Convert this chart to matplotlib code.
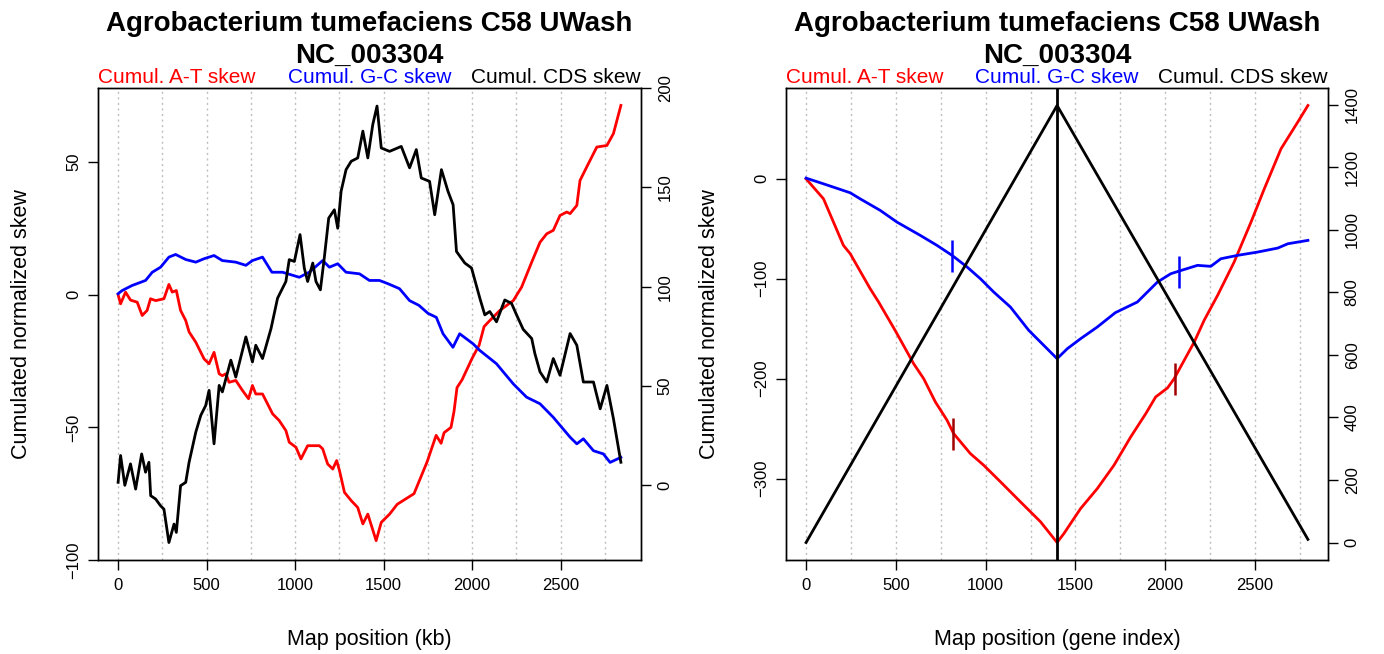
import numpy as np
import matplotlib.pyplot as plt

plt.rcParams['font.family'] = ['Liberation Sans', 'DejaVu Sans']

# --- cumulative skews along the chromosome (kb) ---
kb_at = [0, 14, 42, 70, 108, 136, 164, 183, 212, 259, 287, 306, 329, 353, 382, 401, 439,
         486, 514, 542, 571, 589, 609, 627, 665, 703, 737, 759, 778, 816, 873, 910, 948,
         967, 1005, 1033, 1071, 1137, 1156, 1184, 1213, 1235, 1251, 1279, 1317, 1354, 1383,
         1411, 1458, 1487, 1534, 1577, 1672, 1746, 1797, 1825, 1842, 1881, 1898, 1915, 1944,
         2000, 2040, 2068, 2096, 2120, 2157, 2233, 2280, 2337, 2384, 2422, 2459, 2497, 2535,
         2554, 2592, 2610, 2657, 2705, 2762, 2799, 2841]
at_skew_kb = [0, -3.4, 1, -2, -2.8, -7.8, -5.9, -1.5, -2.2, -1.5, 3.9, 1, 1.6, -5.9, -9.7,
              -14, -17.9, -24.2, -26, -21.7, -29.8, -30.5, -29.8, -33, -32.3, -36.1, -39.2,
              -34.2, -37.4, -37.4, -44.9, -47.4, -51.2, -55.6, -57.5, -61.9, -56.9, -56.9,
              -58.1, -63.8, -65.7, -62.5, -66.3, -74.5, -77.6, -80.2, -86.4, -82.7, -92.7,
              -85.8, -82.7, -79, -75, -63, -53, -56, -52, -50, -44, -35, -32, -24, -19, -12,
              -10, -8.4, -5.9, -2.2, 2.9, 12.3, 19.8, 23, 24.3, 29.9, 31.2, 30.6, 33.7, 43.1,
              49.4, 55.7, 56.3, 60.8, 71.4]

kb_gc = [0, 23, 79, 155, 193, 240, 287, 325, 382, 439, 486, 542, 589, 665, 722, 759, 816,
         869, 929, 1024, 1080, 1156, 1194, 1241, 1288, 1364, 1420, 1477, 1524, 1590, 1647,
         1700, 1751, 1798, 1836, 1892, 1930, 2006, 2044, 2138, 2233, 2308, 2384, 2459, 2554,
         2592, 2629, 2686, 2742, 2780, 2841]
gc_skew_kb = [0.4, 1.6, 3.5, 5.4, 8.5, 10.4, 14.2, 15.2, 13.3, 12.3, 13.6, 14.8, 12.9, 12.3,
              11.1, 12.9, 14.2, 8.5, 8.5, 6.6, 8.5, 12.9, 10.4, 11.7, 8.5, 7.9, 5.4, 5.4, 4.2,
              2.3, -2.2, -4, -7, -8.5, -14.7, -19.8, -14.7, -18.5, -21, -26, -33.6, -38.6,
              -41.1, -46.2, -53.7, -56.2, -54.3, -58.8, -60, -63.2, -61.3]

kb_cds = [0, 14, 38, 70, 99, 133, 155, 174, 184, 212, 240, 259, 287, 316, 329, 353, 382,
          401, 439, 467, 495, 514, 542, 571, 589, 637, 665, 722, 759, 778, 816, 864, 901,
          948, 967, 996, 1028, 1052, 1071, 1100, 1118, 1143, 1165, 1190, 1222, 1241, 1260,
          1288, 1317, 1354, 1383, 1411, 1439, 1463, 1487, 1534, 1600, 1647, 1685, 1713,
          1760, 1789, 1827, 1864, 1893, 1912, 1959, 1997, 2044, 2072, 2100, 2138, 2185,
          2223, 2252, 2289, 2337, 2355, 2384, 2422, 2459, 2497, 2554, 2592, 2629, 2686,
          2724, 2762, 2799, 2841]
cds_skew_kb = [1.5, 15, 0, 10.8, -1.9, 15.8, 6.6, 11.6, -5.2, -6.9, -10.3, -12, -28.8,
               -19.5, -23.7, -0.2, 1.5, 11.6, 26.8, 35.2, 40.2, 47.8, 20.9, 50.3, 47, 63,
               54.5, 74.7, 62.1, 70.5, 63.8, 78.9, 94.2, 102.6, 113.6, 112.7, 126.2, 109.4,
               102.6, 111.9, 102.6, 98.4, 114.5, 134.5, 138.7, 129.4, 148, 158.9, 163.1,
               164.8, 178.3, 164.8, 181.6, 190.9, 169.8, 168.1, 170.6, 159.8, 169, 154.7,
               153, 136.2, 158.9, 148, 141.2, 117.7, 111.9, 109.4, 94.2, 85.8, 87.5, 82.3,
               93.3, 91.6, 85.7, 78.5, 73.9, 66.3, 57.1, 52, 63.8, 55.4, 76.4, 70.5, 52, 52,
               38.5, 50.3, 33.5, 11.6]

# --- cumulative skews along the gene order ---
gene_at = [0, 97, 208, 246, 357, 404, 497, 599, 655, 720, 785, 822, 915, 989, 1083, 1194,
           1306, 1398, 1436, 1529, 1622, 1715, 1808, 1892, 1947, 2013, 2050, 2106, 2162,
           2217, 2292, 2384, 2478, 2552, 2645, 2738, 2795]
at_skew_gene = [0, -20, -66.6, -75, -110, -123.3, -152, -185, -200, -223.3, -241.6, -255,
                -275, -286.6, -303.3, -323.3, -343.3, -364, -355, -330, -310, -286.6,
                -258.3, -235, -218.3, -209.3, -200, -181.6, -163.3, -141.6, -116.6, -83.3,
                -43.3, -10, 30, 56.7, 73.4]

gene_gc = [0, 97, 190, 246, 301, 413, 506, 636, 729, 813, 897, 971, 1045, 1138, 1240, 1398,
           1455, 1529, 1622, 1722, 1845, 1957, 2031, 2078, 2180, 2254, 2310, 2403, 2515,
           2627, 2683, 2795]
gc_skew_gene = [0.7, -5, -10.6, -14, -20, -31.6, -43.3, -56.6, -66.6, -76.6, -88.3, -100,
                -113.3, -128.3, -151.6, -180, -170, -160, -148.3, -134, -123.3, -103.3, -95,
                -92.3, -86.6, -87.6, -80, -76.6, -73.3, -69.3, -65, -61.6]

gene_cds = [0, 1398, 2795]
cds_skew_gene = [0, 1398, 10]

# tick marks placed on the gene-order curves
at_mark_gene = [820, 2052]
at_mark_val = [-255, -200]
gc_mark_gene = [813, 2076]
gc_mark_val = [-77, -93]

TITLE = "Agrobacterium tumefaciens C58 UWash"
ACCESSION = "NC_003304"
AT_COL, GC_COL, CDS_COL = "#FF0000", "#0000FF", "black"


def r_style(ax):
    ax.tick_params(axis='both', direction='out', length=7, width=1, labelsize=12)
    ax.tick_params(axis='x', pad=6)
    ax.tick_params(axis='y', labelrotation=90, pad=5)
    for lab in ax.get_yticklabels():
        lab.set_va('center')
    for s in ax.spines.values():
        s.set_linewidth(1)


def draw_panel(ax, xs, x_label, at_x, at_y, gc_x, gc_y, cds_x, cds_y,
               left_ticks, right_ticks):
    xmax = max(xs)
    for v in np.arange(0, xmax + 1, 250):
        ax.axvline(v, color='#BEBEBE', lw=1, ls=(0, (1.5, 2.5)), zorder=0)

    ax.plot(at_x, at_y, color=AT_COL, lw=2)
    ax.plot(gc_x, gc_y, color=GC_COL, lw=2)
    ax.margins(x=0.04, y=0.04)
    ax.set_xlim(-0.04 * xmax, 1.04 * xmax)
    ax.set_yticks(left_ticks)
    ax.set_xticks(np.arange(0, xmax, 500))

    ax2 = ax.twinx()
    ax2.plot(cds_x, cds_y, color=CDS_COL, lw=2)
    ax2.margins(y=0.04)
    ax2.set_xlim(-0.04 * xmax, 1.04 * xmax)
    ax2.set_yticks(right_ticks)

    r_style(ax)
    r_style(ax2)

    ax.set_xlabel(x_label, fontsize=15.5, labelpad=26)
    ax.set_ylabel("Cumulated normalized skew", fontsize=15.5, labelpad=25)

    ax.text(0.5, 1.135, TITLE, transform=ax.transAxes, ha='center', va='center',
            fontsize=20, fontweight='bold')
    ax.text(0.5, 1.069, ACCESSION, transform=ax.transAxes, ha='center', va='center',
            fontsize=20, fontweight='bold')
    ax.text(0.0, 1.022, "Cumul. A-T skew", color=AT_COL, transform=ax.transAxes,
            ha='left', va='center', fontsize=15)
    ax.text(0.5, 1.022, "Cumul. G-C skew", color=GC_COL, transform=ax.transAxes,
            ha='center', va='center', fontsize=15)
    ax.text(1.0, 1.022, "Cumul. CDS skew", color=CDS_COL, transform=ax.transAxes,
            ha='right', va='center', fontsize=15)
    return ax2


fig = plt.figure(figsize=(13.84, 6.54), dpi=100)
ax_kb = fig.add_axes([98 / 1384, 1 - 560 / 654, 543 / 1384, 472 / 654])
ax_gene = fig.add_axes([786 / 1384, 1 - 560 / 654, 542 / 1384, 472 / 654])

draw_panel(ax_kb, kb_at + kb_gc + kb_cds, "Map position (kb)",
           kb_at, at_skew_kb, kb_gc, gc_skew_kb, kb_cds, cds_skew_kb,
           [-100, -50, 0, 50], [0, 50, 100, 150, 200])

draw_panel(ax_gene, gene_at + gene_gc + gene_cds, "Map position (gene index)",
           gene_at, at_skew_gene, gene_gc, gc_skew_gene, gene_cds, cds_skew_gene,
           [-300, -200, -100, 0], list(range(0, 1401, 200)))

# replication origin/terminus split and reference marks
ax_gene.axvline(gene_cds[1], color='black', lw=2, zorder=3)
ax_gene.plot(gc_mark_gene, gc_mark_val, ls='none', marker='|', ms=23, mew=1.8,
             color=GC_COL)
ax_gene.plot(at_mark_gene, at_mark_val, ls='none', marker='|', ms=23, mew=1.8,
             color='#A00000')

fig.savefig("out.png", dpi=100)
